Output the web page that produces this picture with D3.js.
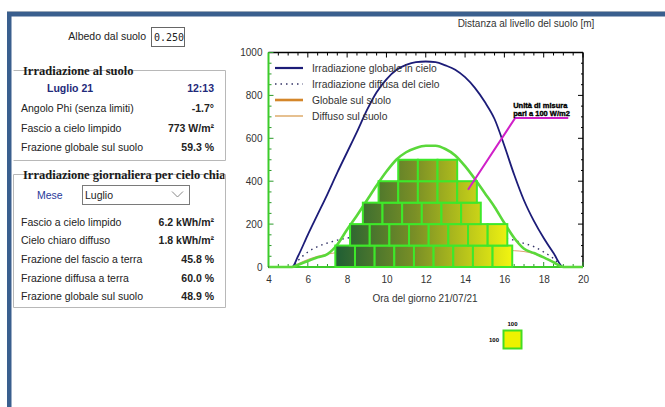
<!DOCTYPE html>
<html><head><meta charset="utf-8">
<script src="https://cdn.jsdelivr.net/npm/d3@7"></script>
<style>
html,body{margin:0;padding:0;background:#fff;}
svg{display:block;font-family:"Liberation Sans",Arial,sans-serif;}
</style></head>
<body>
<svg id="c" width="665" height="407"></svg>
<script>
// ---- data ----
const hours       = [4, 5.2, 5.5, 6, 6.5, 7, 7.5, 8, 8.5, 9, 9.5, 10, 10.5, 11, 11.5, 12, 12.5, 13, 13.5, 14, 14.5, 15, 15.5, 16, 16.5, 17, 17.5, 18, 18.5, 19, 20];
const globalSky   = [0, 0, 50, 150, 245, 340, 440, 535, 630, 730, 815, 875, 918, 942, 955, 958, 955, 940, 920, 885, 835, 770, 690, 565, 430, 310, 215, 135, 65, 0, 0];
const diffuseSky  = [0, 0, 30, 70, 95, 112, 125, 135, 142, 148, 152, 155, 157, 158, 158, 158, 158, 157, 156, 154, 151, 147, 142, 135, 125, 110, 95, 70, 40, 0, 0];
const globalGround= [0, 0, 10, 28, 45, 60, 105, 175, 240, 310, 380, 445, 500, 535, 555, 565, 565, 550, 520, 470, 410, 345, 280, 205, 135, 85, 65, 45, 22, 0, 0];
const diffuseGround=[0, 0, 15, 35, 50, 60, 68, 74, 78, 80, 82, 83, 84, 84, 84, 84, 84, 84, 83, 82, 81, 80, 79, 78, 76, 72, 62, 45, 25, 0, 0];
const rowStart    = [7.4, 8.15, 8.8, 9.6, 10.6];   // hour where each row of cells begins
const rowCount    = [9, 8, 6, 5, 3];               // cells in each row
const cellHours   = 1;      // width of a cell, h
const cellValue   = 100;    // height of a cell, W/m2
const xTicks      = [4, 6, 8, 10, 12, 14, 16, 18, 20];
const yTicks      = [0, 200, 400, 600, 800, 1000];
const legendItems = ["Irradiazione globale in cielo", "Irradiazione diffusa del cielo", "Globale sul suolo", "Diffuso sul suolo"];
const unitNote    = [14.15, 360, 16.55, 695, 19.25]; // pointer: start h, start v, elbow h, elbow v, end h

const panel1 = [["Angolo Phi (senza limiti)", "-1.7°"], ["Fascio a cielo limpido", "773 W/m²"], ["Frazione globale sul suolo", "59.3 %"]];
const panel2 = [["Fascio a cielo limpido", "6.2 kWh/m²"], ["Cielo chiaro diffuso", "1.8 kWh/m²"], ["Frazione del fascio a terra", "45.8 %"], ["Frazione diffusa a terra", "60.0 %"], ["Frazione globale sul suolo", "48.9 %"]];

const svg = d3.select("#c");
const defs = svg.append("defs");
defs.append("clipPath").attr("id","cl").append("rect").attr("x",0).attr("y",0).attr("width",224.5).attr("height",407);

// ---- window frame ----
svg.append("rect").attr("x",7).attr("y",11).attr("width",658).attr("height",1).attr("fill","#9aa8b8");
svg.append("rect").attr("x",7).attr("y",12).attr("width",658).attr("height",4.5).attr("fill","#3a5f8e");
svg.append("rect").attr("x",7).attr("y",12).attr("width",4.5).attr("height",395).attr("fill","#3a5f8e");

// ---- left panel ----
const ui = svg.append("g").attr("font-size","10.5px").attr("fill","#222");
ui.append("text").attr("x",146).attr("y",40).attr("text-anchor","end").text("Albedo dal suolo");
ui.append("rect").attr("x",151.5).attr("y",27.5).attr("width",33).attr("height",19).attr("fill","#fff").attr("stroke","#666");
ui.append("text").attr("x",154).attr("y",41).attr("font-family","DejaVu Sans Mono, monospace").attr("font-size","10px").text("0.250");

function groupBox(y0, y1, title, closed){
  if (closed) ui.append("path").attr("d",`M13.5,${y0} H225.5 V${y1} H13.5`).attr("fill","none").attr("stroke","#b8b8b8");
  else ui.append("path").attr("d",`M13.5,${y0} V${y1} H225.5 V${y0} H13.5`).attr("fill","none").attr("stroke","#b8b8b8");
  const t = ui.append("text").attr("x",23).attr("y",y0+4.5).attr("font-weight","bold").attr("font-size","12.5px").attr("fill","#1a1a1a")
    .attr("font-family","Liberation Serif, serif").attr("clip-path","url(#cl)").text(title);
  const w = t.node().getComputedTextLength();
  ui.insert("rect", "text").attr("x",21).attr("y",y0-3).attr("width",Math.min(w+3, 205)).attr("height",6).attr("fill","#fff");
  return t;
}
groupBox(70.5, 160.5, "Irradiazione al suolo", true);
ui.append("text").attr("x",47).attr("y",92).attr("font-weight","bold").attr("fill","#1f2a7a").text("Luglio 21");
ui.append("text").attr("x",214).attr("y",92).attr("text-anchor","end").attr("font-weight","bold").attr("fill","#1f2a7a").text("12:13");
panel1.forEach((r,i)=>{
  const y = 112 + i*19.5;
  ui.append("text").attr("x",21).attr("y",y).text(r[0]);
  ui.append("text").attr("x",214).attr("y",y).attr("text-anchor","end").attr("font-weight","bold").text(r[1]);
});

groupBox(174.5, 307.5, "Irradiazione giornaliera per cielo chiaro", false);
ui.append("text").attr("x",37).attr("y",199).attr("fill","#2a3a9a").text("Mese");
ui.append("rect").attr("x",82.5).attr("y",185.5).attr("width",107).attr("height",19).attr("fill","#fff").attr("stroke","#7a7a7a");
ui.append("text").attr("x",85).attr("y",199).text("Luglio");
ui.append("path").attr("d","M172,191.5 L177.5,197 L183,191.5").attr("fill","none").attr("stroke","#888");
panel2.forEach((r,i)=>{
  const y = 225.5 + i*18.7;
  ui.append("text").attr("x",21).attr("y",y).text(r[0]);
  ui.append("text").attr("x",214).attr("y",y).attr("text-anchor","end").attr("font-weight","bold").text(r[1]);
});

// ---- chart ----
const x = d3.scaleLinear().domain([4,20]).range([268.5,583]);
const y = d3.scaleLinear().domain([0,1000]).range([267,52.5]);

svg.append("text").attr("x",526).attr("y",27).attr("text-anchor","middle").attr("font-size","10px").attr("fill","#333")
  .text("Distanza al livello del suolo [m]");

const grad = defs.append("linearGradient").attr("id","g1").attr("gradientUnits","userSpaceOnUse")
  .attr("x1",x(rowStart[0])).attr("x2",x(rowStart[0]+rowCount[0]*cellHours)).attr("y1",0).attr("y2",0);
grad.append("stop").attr("offset","0").attr("stop-color","#1f5e34");
grad.append("stop").attr("offset","0.45").attr("stop-color","#7a8f26");
grad.append("stop").attr("offset","1").attr("stop-color","#f2f510");

const line = d3.line().x((d,i)=>x(hours[i])).y(d=>y(d)).curve(d3.curveMonotoneX);

// frame
svg.append("line").attr("x1",x(4)).attr("x2",x(20)).attr("y1",y(1000)).attr("y2",y(1000)).attr("stroke","#000").attr("stroke-width",1.5);
svg.append("line").attr("x1",x(20)).attr("x2",x(20)).attr("y1",y(1000)).attr("y2",y(0)).attr("stroke","#000").attr("stroke-width",1.5);

// axes
const gx = svg.append("g").attr("transform",`translate(0,${y(0)})`)
  .call(d3.axisBottom(x).tickValues(xTicks).tickSize(0).tickPadding(9).tickFormat(d3.format("d")));
gx.select(".domain").remove();
gx.selectAll("text").attr("font-size","10px").attr("fill","#333").attr("font-family","Liberation Sans, Arial");
const gy = svg.append("g").attr("transform",`translate(${x(4)},0)`)
  .call(d3.axisLeft(y).tickValues(yTicks).tickSize(0).tickPadding(6).tickFormat(d3.format("d")));
gy.select(".domain").remove();
gy.selectAll("text").attr("font-size","10px").attr("fill","#333").attr("font-family","Liberation Sans, Arial");

// minor ticks inside
const minorX = d3.range(4, 20.01, 0.5);
svg.append("g").selectAll("line").data(minorX).join("line")
  .attr("x1",d=>x(d)).attr("x2",d=>x(d)).attr("y1",y(1000)).attr("y2",d=>y(1000)+(d%2===0?5:3)).attr("stroke","#000");
svg.append("g").selectAll("line").data(minorX).join("line")
  .attr("x1",d=>x(d)).attr("x2",d=>x(d)).attr("y1",y(0)).attr("y2",d=>y(0)-(d%2===0?5:3)).attr("stroke","#2a9a2a");
const minorY = d3.range(0, 1000.1, 50);
svg.append("g").selectAll("line").data(minorY).join("line")
  .attr("x1",x(4)).attr("x2",d=>x(4)+(d%200===0?5:3)).attr("y1",d=>y(d)).attr("y2",d=>y(d)).attr("stroke","#2a9a2a");
svg.append("g").selectAll("line").data(minorY).join("line")
  .attr("x1",x(20)).attr("x2",d=>x(20)-(d%200===0?5:2)).attr("y1",d=>y(d)).attr("y2",d=>y(d)).attr("stroke","#000");

// left & bottom axes lines (green)
svg.append("line").attr("x1",x(4)).attr("x2",x(4)).attr("y1",y(1000)).attr("y2",y(0)).attr("stroke","#3ccc2a").attr("stroke-width",2);
svg.append("line").attr("x1",x(4)).attr("x2",x(20)).attr("y1",y(0)).attr("y2",y(0)).attr("stroke","#3ccc2a").attr("stroke-width",2);

// series
svg.append("path").attr("d",line(diffuseSky)).attr("fill","none").attr("stroke","#333366").attr("stroke-width",1.4).attr("stroke-dasharray","1.5,4");
svg.append("path").attr("d",line(diffuseGround)).attr("fill","none").attr("stroke","#e0a070").attr("stroke-width",1);
svg.append("path").attr("d",line(globalSky)).attr("fill","none").attr("stroke","#1c1c78").attr("stroke-width",1.8);
// black stubs where the sky curve sits on zero
svg.append("line").attr("x1",x(hours[0])).attr("x2",x(hours[1])).attr("y1",y(0)).attr("y2",y(0)).attr("stroke","#111").attr("stroke-width",2);
svg.append("line").attr("x1",x(hours[hours.length-2])).attr("x2",x(hours[hours.length-1])).attr("y1",y(0)).attr("y2",y(0)).attr("stroke","#111").attr("stroke-width",2);
svg.append("path").attr("d",line(globalGround)).attr("fill","none").attr("stroke","#5ad83a").attr("stroke-width",2.6);

// cells
const cells = [];
rowStart.forEach((s,r)=>{ for(let k=0;k<rowCount[r];k++) cells.push({h0:s+k*cellHours, v0:r*cellValue}); });
svg.append("g").selectAll("rect").data(cells).join("rect")
  .attr("x",d=>x(d.h0)).attr("y",d=>y(d.v0+cellValue))
  .attr("width",d=>x(d.h0+cellHours)-x(d.h0)).attr("height",d=>y(d.v0)-y(d.v0+cellValue))
  .attr("fill","url(#g1)").attr("stroke","#3ee82a").attr("stroke-width",2);

// unit pointer
svg.append("path").attr("d",`M${x(unitNote[0])},${y(unitNote[1])} L${x(unitNote[2])},${y(unitNote[3])} H${x(unitNote[4])}`)
  .attr("fill","none").attr("stroke","#d020c8").attr("stroke-width",2);
const un = svg.append("g").attr("font-family","Liberation Sans, Arial").attr("font-weight","bold").attr("font-size","7.5px").attr("fill","#000")
  .attr("stroke","#000").attr("stroke-width",0.35);
un.append("text").attr("x",x(unitNote[2])-2).attr("y",y(unitNote[3])-9.5).text("Unità di misura");
un.append("text").attr("x",x(unitNote[2])-2).attr("y",y(unitNote[3])-2).text("pari a 100 W/m2");

// legend
const lg = svg.append("g").attr("font-size","10.3px").attr("fill","#333");
const lgStyles = [
  {stroke:"#1c1c78", w:2.2, dash:null},
  {stroke:"#333366", w:1.3, dash:"1.5,4"},
  {stroke:"#d4862a", w:2.6, dash:null},
  {stroke:"#e6c090", w:2, dash:null}
];
legendItems.forEach((t,i)=>{
  const yy = 68 + i*16;
  lg.append("line").attr("x1",275).attr("x2",303).attr("y1",yy).attr("y2",yy)
    .attr("stroke",lgStyles[i].stroke).attr("stroke-width",lgStyles[i].w).attr("stroke-dasharray",lgStyles[i].dash);
  lg.append("text").attr("x",312).attr("y",yy+3.5).text(t);
});

// x axis title
svg.append("text").attr("x",425).attr("y",302).attr("text-anchor","middle").attr("font-size","10px").attr("fill","#333").text("Ora del giorno 21/07/21");

// unit square
const sq = svg.append("g");
sq.append("rect").attr("x",503.5).attr("y",330.5).attr("width",18).attr("height",18).attr("fill","#eef200").attr("stroke","#44dd22").attr("stroke-width",2);
sq.append("text").attr("x",512.5).attr("y",325.5).attr("text-anchor","middle").attr("font-size","6px").attr("font-weight","bold").text("100");
sq.append("text").attr("x",499).attr("y",342).attr("text-anchor","end").attr("font-size","6px").attr("font-weight","bold").text("100");
</script>
</body></html>
